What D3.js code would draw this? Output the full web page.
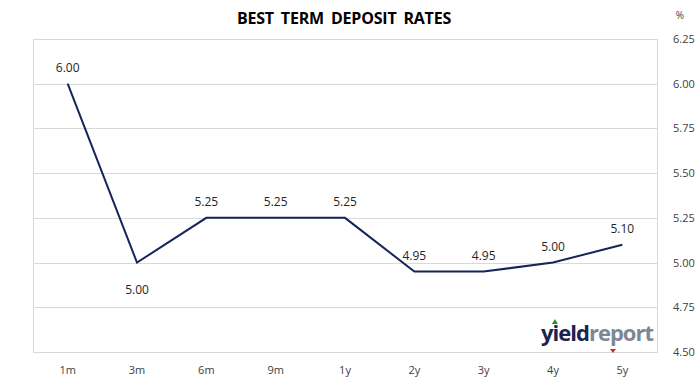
<!DOCTYPE html>
<html>
<head>
<meta charset="utf-8">
<script src="https://cdn.jsdelivr.net/npm/d3@7"></script>
<style>
body { margin: 0; background: #fff; }
text { font-family: "Open Sans", sans-serif; }
</style>
</head>
<body>
<svg id="svg_chart" width="699" height="385"></svg>
<script>
var terms = ["1m", "3m", "6m", "9m", "1y", "2y", "3y", "4y", "5y"];
var rates = [6.00, 5.00, 5.25, 5.25, 5.25, 4.95, 4.95, 5.00, 5.10];
var yTicks = [4.50, 4.75, 5.00, 5.25, 5.50, 5.75, 6.00, 6.25];
// labels below the point rather than above
var labelBelow = [false, true, false, false, false, false, false, false, false];

function renderChart() {
	var svg = d3.select("#svg_chart"),
		margin = {top: 39, right: 42, bottom: 33, left: 33},
		width = +svg.attr("width"),
		height = +svg.attr("height");

	var x = d3.scaleBand()
		.domain(terms)
		.range([margin.left, width - margin.right]);
	var y = d3.scaleLinear()
		.domain([4.5, 6.25])
		.range([height - margin.bottom, margin.top]);

	// gridlines
	svg.append("g").selectAll("line").data(yTicks)
		.enter().append("line")
		.attr("x1", margin.left).attr("x2", width - margin.right)
		.attr("y1", function(d) { return Math.round(y(d)) + 0.5; })
		.attr("y2", function(d) { return Math.round(y(d)) + 0.5; })
		.attr("stroke", "#d9d9d9").attr("stroke-width", 1);

	// plot border
	svg.append("rect")
		.attr("x", margin.left + 0.5).attr("y", Math.round(y(6.25)) + 0.5)
		.attr("width", width - margin.right - margin.left)
		.attr("height", Math.round(y(4.5)) - Math.round(y(6.25)))
		.attr("fill", "none").attr("stroke", "#d9d9d9");

	// y axis on the right
	var yAxis = d3.axisRight(y).tickValues(yTicks).tickFormat(d3.format(".2f")).tickSize(0).tickPadding(0);
	var gy = svg.append("g")
		.attr("transform", "translate(" + (width - margin.right + 16) + ",0)")
		.call(yAxis);
	gy.select(".domain").remove();
	gy.selectAll("text").attr("font-size", 11).attr("fill", "#404040")
		.attr("font-family", "Open Sans, sans-serif");

	svg.append("text").attr("x", 680).attr("y", 19)
		.attr("text-anchor", "middle").attr("font-size", 10).attr("fill", "#404040")
		.text("%");

	// x axis
	var xAxis = d3.axisBottom(x).tickSize(0).tickPadding(0);
	var gx = svg.append("g")
		.attr("transform", "translate(0," + (height - margin.bottom + 14) + ")")
		.call(xAxis);
	gx.select(".domain").remove();
	gx.selectAll("text").attr("font-size", 11).attr("fill", "#404040")
		.attr("font-family", "Open Sans, sans-serif");

	// title
	svg.append("text").attr("x", 344).attr("y", 24)
		.attr("text-anchor", "middle").attr("font-size", 16).attr("font-weight", "bold")
		.attr("fill", "#000").attr("word-spacing", 3)
		.attr("letter-spacing", -0.2)
		.text("BEST TERM DEPOSIT RATES");

	// line
	var data = terms.map(function(t, i) {
		return {"term": t, "value": rates[i], "below": labelBelow[i]};
	});
	var line = d3.line()
		.x(function(d) { return x(d.term) + x.bandwidth() / 2; })
		.y(function(d) { return y(d.value); });
	svg.append("path").datum(data)
		.attr("d", line)
		.attr("fill", "none")
		.attr("stroke", "#15245b")
		.attr("stroke-width", 2)
		.attr("stroke-linejoin", "miter");

	// data labels
	svg.append("g").selectAll("text").data(data)
		.enter().append("text")
		.attr("x", function(d) { return x(d.term) + x.bandwidth() / 2; })
		.attr("y", function(d) { return y(d.value) + (d.below ? 31 : -12); })
		.attr("text-anchor", "middle")
		.attr("font-size", 12)
		.attr("fill", "#262626")
		.text(function(d) { return d3.format(".2f")(d.value); });

	// logo
	var logo = svg.append("g").attr("transform", "translate(653,341)");
	var t = logo.append("text").attr("text-anchor", "end")
		.attr("font-size", 22).attr("font-weight", "bold")
		.attr("letter-spacing", -1);
	t.append("tspan").attr("fill", "#1b2350").text("yield");
	t.append("tspan").attr("fill", "#7d8797").text("report");
	var node = t.node();
	var iBox = node.getExtentOfChar(1);
	var pBox = node.getExtentOfChar(7);
	var ix = iBox.x + iBox.width / 2 - 0.5;
	var px = pBox.x + 3;
	logo.append("rect").attr("x", ix - 2.5).attr("y", -21).attr("width", 5).attr("height", 5).attr("fill", "#fff");
	logo.append("path").attr("d", "M" + (ix - 3) + ",-17 l3,-5 l3,5 z").attr("fill", "#2e8b3e");
	logo.append("path").attr("d", "M" + (px - 3) + ",8 l3,4 l3,-4 z").attr("fill", "#e0202a");
}

renderChart();
</script>
</body>
</html>
